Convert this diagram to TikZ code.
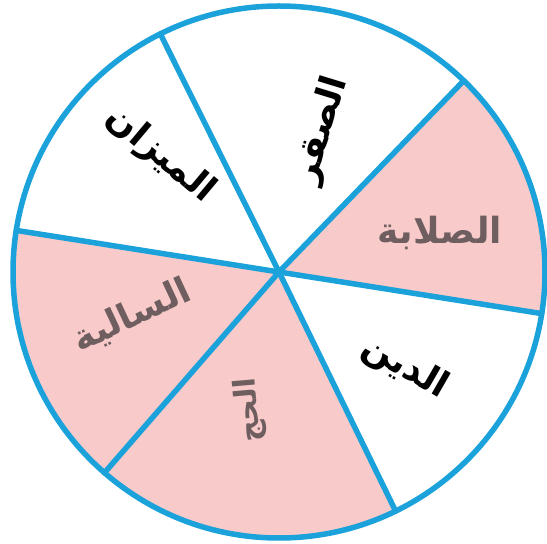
\documentclass[tikz,border=0pt]{standalone}
\usetikzlibrary{calc}
\usepackage{fontspec}
\newfontfamily\arabicfont[Script=Arabic]{DejaVu Sans}
\TeXXeTstate=1
\definecolor{rimblue}{HTML}{1BA2DB}
\definecolor{sectorpink}{HTML}{F9CACA}
\definecolor{fadedtext}{HTML}{6E5E60}
\begin{document}
\begin{tikzpicture}[x=1pt,y=1pt,
  rim/.style={draw=rimblue,line width=5.5pt},
  spoke/.style={draw=rimblue,line width=5.5pt,line cap=round},
  pinksector/.style={fill=sectorpink,draw=none},
  lbl/.style={font=\arabicfont\bfseries\fontsize{36}{40}\selectfont,text=black,inner sep=0pt},
  lblfaded/.style={lbl,text=fadedtext}]
\useasboundingbox (0,0) rectangle (547,544);
\coordinate (c) at (279,272);
\def\R{266}
% rim points
\coordinate (p1) at ($(c)+(46:\R)$);
\coordinate (p2) at ($(c)+(116.5:\R)$);
\coordinate (p3) at ($(c)+(171:\R)$);
\coordinate (p4) at ($(c)+(229:\R)$);
\coordinate (p5) at ($(c)+(296:\R)$);
\coordinate (p6) at ($(c)+(351:\R)$);
% pink sectors
\fill[pinksector] (c) -- (p6) arc[start angle=-9,end angle=46,radius=\R] -- cycle;
\fill[pinksector] (c) -- (p3) arc[start angle=171,end angle=229,radius=\R] -- cycle;
\fill[pinksector] (c) -- (p4) arc[start angle=229,end angle=296,radius=\R] -- cycle;
% spokes
\draw[spoke] (c) -- (p1);
\draw[spoke] (c) -- (p2);
\draw[spoke] (c) -- (p3);
\draw[spoke] (c) -- (p4);
\draw[spoke] (c) -- (p5);
\draw[spoke] (c) -- (p6);
% rim
\draw[rim] (c) circle[radius=\R];
% labels
\node[lbl,rotate=73] (saqr) at (322,414) {\beginR الصقر\endR};
\node[lbl,rotate=-40] (mizan) at (160,389) {\beginR الميزان\endR};
\node[lblfaded] (salaba) at (440,311) {\beginR الصلابة\endR};
\node[lbl,rotate=-30] (din) at (405,176) {\beginR الدين\endR};
\node[lblfaded,rotate=25] (saliya) at (132,228) {\beginR السالية\endR};
\node[lblfaded,rotate=95,font=\arabicfont\bfseries\fontsize{30}{34}\selectfont] (hajj) at (250,134) {\beginR الحج\endR};
\end{tikzpicture}
\end{document}
